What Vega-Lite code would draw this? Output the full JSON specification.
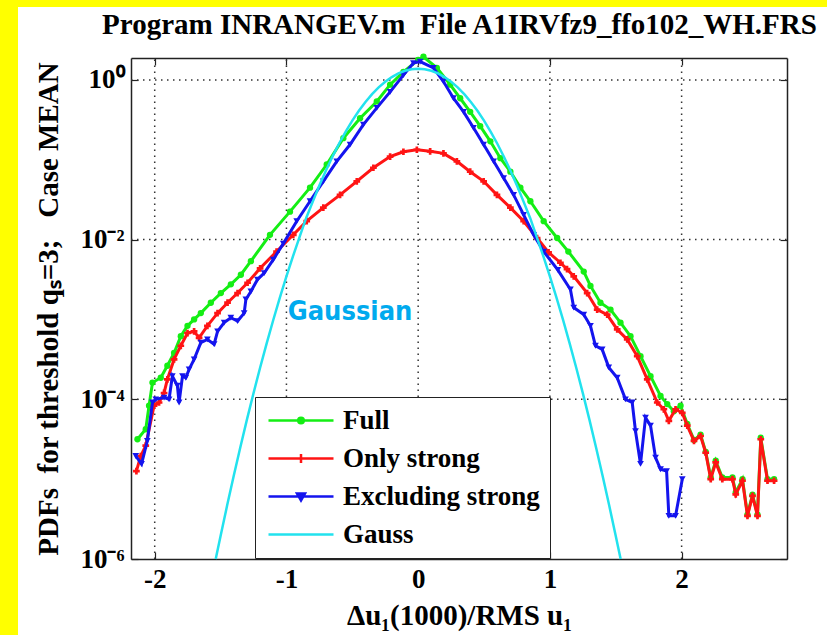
{
  "$schema": "https://vega.github.io/schema/vega-lite/v6.json",
  "width": 809,
  "height": 628,
  "autosize": {"type": "none"},
  "padding": {"left": 18, "top": 7, "right": 0, "bottom": 0},
  "background": "#ffff00",
  "config": {
    "view": {"fill": "white", "stroke": null},
    "font": "Liberation Serif",
    "axis": {
      "labelFont": "Liberation Serif", "labelFontWeight": "bold", "labelFontSize": 27, "labelColor": "black",
      "titleFont": "Liberation Serif", "titleFontWeight": "bold", "titleFontSize": 29, "titleColor": "black",
      "domainColor": "#222", "domainWidth": 1.5, "tickColor": "#222", "tickWidth": 1.2, "tickSize": -7, "grid": false
    }
  },
  "datasets": {
    "gridx": [{"gx": -2}, {"gx": -1}, {"gx": 0}, {"gx": 1}, {"gx": 2}],
    "gridy": [{"gy": 1}, {"gy": 0.01}, {"gy": 0.0001}],
    "note": [{"x": -0.517, "y": 0.00123, "t": "Gaussian"}],
    "full": [
      {"x": -2.131, "y": 3.16e-5}, {"x": -2.068, "y": 4.22e-5}, {"x": -2.043, "y": 8.32e-5}, {"x": -2.017, "y": 1.62e-4},
      {"x": -1.954, "y": 1.86e-4}, {"x": -1.904, "y": 2.63e-4}, {"x": -1.853, "y": 3.80e-4}, {"x": -1.802, "y": 6.17e-4},
      {"x": -1.751, "y": 8.32e-4}, {"x": -1.701, "y": 1.0e-3}, {"x": -1.65, "y": 1.20e-3}, {"x": -1.574, "y": 1.62e-3},
      {"x": -1.498, "y": 2.14e-3}, {"x": -1.422, "y": 2.75e-3}, {"x": -1.346, "y": 3.63e-3}, {"x": -1.27, "y": 5.37e-3},
      {"x": -1.125, "y": 0.01148}, {"x": -0.973, "y": 0.02239}, {"x": -0.821, "y": 0.04467}, {"x": -0.694, "y": 0.0871},
      {"x": -0.568, "y": 0.1862}, {"x": -0.441, "y": 0.3311}, {"x": -0.314, "y": 0.537}, {"x": -0.213, "y": 0.871},
      {"x": -0.112, "y": 1.259}, {"x": 0.0, "y": 1.778}, {"x": 0.04, "y": 1.95}, {"x": 0.142, "y": 1.413},
      {"x": 0.243, "y": 0.871}, {"x": 0.319, "y": 0.589}, {"x": 0.395, "y": 0.398}, {"x": 0.471, "y": 0.263},
      {"x": 0.548, "y": 0.170}, {"x": 0.624, "y": 0.1047}, {"x": 0.7, "y": 0.0708}, {"x": 0.776, "y": 0.0447},
      {"x": 0.852, "y": 0.0302}, {"x": 0.953, "y": 0.0170}, {"x": 1.055, "y": 0.01047}, {"x": 1.14, "y": 7.08e-3},
      {"x": 1.257, "y": 3.98e-3}, {"x": 1.308, "y": 2.63e-3}, {"x": 1.384, "y": 1.62e-3}, {"x": 1.46, "y": 1.33e-3},
      {"x": 1.536, "y": 9.12e-4}, {"x": 1.612, "y": 6.17e-4}, {"x": 1.688, "y": 3.47e-4}, {"x": 1.764, "y": 1.95e-4},
      {"x": 1.84, "y": 1.10e-4}, {"x": 1.891, "y": 8.71e-5}, {"x": 1.941, "y": 7.08e-5}, {"x": 1.992, "y": 8.32e-5},
      {"x": 2.043, "y": 4.9e-5}, {"x": 2.094, "y": 3.1e-5}, {"x": 2.144, "y": 3.6e-5}, {"x": 2.183, "y": 2.2e-5},
      {"x": 2.221, "y": 1.05e-5}, {"x": 2.259, "y": 1.7e-5}, {"x": 2.309, "y": 1.05e-5}, {"x": 2.386, "y": 1.05e-5},
      {"x": 2.411, "y": 6.8e-6}, {"x": 2.462, "y": 1.0e-5}, {"x": 2.5, "y": 3.6e-6}, {"x": 2.538, "y": 6.4e-6},
      {"x": 2.576, "y": 3.6e-6}, {"x": 2.601, "y": 3.3e-5}, {"x": 2.652, "y": 1.0e-5}, {"x": 2.702, "y": 1.0e-5}
    ],
    "strong": [
      {"x": -2.139, "y": 1.26e-5}, {"x": -2.106, "y": 1.95e-5}, {"x": -2.068, "y": 2.63e-5}, {"x": -2.005, "y": 8.32e-5},
      {"x": -1.967, "y": 9.12e-5}, {"x": -1.929, "y": 1.20e-4}, {"x": -1.904, "y": 1.78e-4}, {"x": -1.853, "y": 3.16e-4},
      {"x": -1.802, "y": 4.68e-4}, {"x": -1.751, "y": 6.76e-4}, {"x": -1.701, "y": 7.08e-4}, {"x": -1.663, "y": 5.89e-4},
      {"x": -1.6, "y": 8.32e-4}, {"x": -1.523, "y": 1.20e-3}, {"x": -1.447, "y": 1.62e-3}, {"x": -1.371, "y": 2.14e-3},
      {"x": -1.295, "y": 2.88e-3}, {"x": -1.2, "y": 4.37e-3}, {"x": -1.075, "y": 7.08e-3}, {"x": -0.948, "y": 0.01148},
      {"x": -0.846, "y": 0.0170}, {"x": -0.72, "y": 0.0251}, {"x": -0.593, "y": 0.0363}, {"x": -0.466, "y": 0.0537},
      {"x": -0.34, "y": 0.0794}, {"x": -0.213, "y": 0.1096}, {"x": -0.112, "y": 0.1259}, {"x": -0.01, "y": 0.1334},
      {"x": 0.091, "y": 0.1274}, {"x": 0.192, "y": 0.1202}, {"x": 0.294, "y": 0.0955}, {"x": 0.395, "y": 0.0708},
      {"x": 0.497, "y": 0.0537}, {"x": 0.598, "y": 0.0363}, {"x": 0.7, "y": 0.0251}, {"x": 0.801, "y": 0.0170},
      {"x": 0.903, "y": 0.01047}, {"x": 0.99, "y": 6.92e-3}, {"x": 1.08, "y": 5.13e-3}, {"x": 1.13, "y": 4.27e-3},
      {"x": 1.181, "y": 3.47e-3}, {"x": 1.283, "y": 2.14e-3}, {"x": 1.359, "y": 1.33e-3}, {"x": 1.435, "y": 1.15e-3},
      {"x": 1.511, "y": 7.50e-4}, {"x": 1.587, "y": 5.62e-4}, {"x": 1.663, "y": 3.47e-4}, {"x": 1.739, "y": 1.78e-4},
      {"x": 1.815, "y": 9.12e-5}, {"x": 1.865, "y": 7.50e-5}, {"x": 1.903, "y": 5.37e-5}, {"x": 1.954, "y": 7.50e-5},
      {"x": 2.005, "y": 6.76e-5}, {"x": 2.043, "y": 4.68e-5}, {"x": 2.094, "y": 3.02e-5}, {"x": 2.144, "y": 3.47e-5},
      {"x": 2.183, "y": 2.14e-5}, {"x": 2.221, "y": 1.0e-5}, {"x": 2.259, "y": 1.62e-5}, {"x": 2.309, "y": 1.0e-5},
      {"x": 2.386, "y": 1.0e-5}, {"x": 2.411, "y": 6.46e-6}, {"x": 2.462, "y": 9.55e-6}, {"x": 2.5, "y": 3.47e-6},
      {"x": 2.538, "y": 6.17e-6}, {"x": 2.576, "y": 3.47e-6}, {"x": 2.601, "y": 3.16e-5}, {"x": 2.652, "y": 9.55e-6},
      {"x": 2.702, "y": 9.55e-6}
    ],
    "excl": [
      {"x": -2.144, "y": 1.95e-5}, {"x": -2.1, "y": 1.55e-5}, {"x": -2.056, "y": 3.02e-5}, {"x": -2.017, "y": 9.12e-5},
      {"x": -1.992, "y": 1.0e-4}, {"x": -1.929, "y": 1.05e-4}, {"x": -1.891, "y": 1.0e-4}, {"x": -1.866, "y": 1.95e-4},
      {"x": -1.828, "y": 1.48e-4}, {"x": -1.815, "y": 9.12e-5}, {"x": -1.789, "y": 1.95e-4}, {"x": -1.764, "y": 1.86e-4},
      {"x": -1.739, "y": 2.37e-4}, {"x": -1.701, "y": 3.16e-4}, {"x": -1.65, "y": 5.13e-4}, {"x": -1.6, "y": 5.62e-4},
      {"x": -1.549, "y": 4.90e-4}, {"x": -1.523, "y": 7.08e-4}, {"x": -1.473, "y": 9.12e-4}, {"x": -1.422, "y": 1.05e-3},
      {"x": -1.371, "y": 9.55e-4}, {"x": -1.321, "y": 1.20e-3}, {"x": -1.308, "y": 1.78e-3}, {"x": -1.27, "y": 2.24e-3},
      {"x": -1.22, "y": 3.16e-3}, {"x": -1.169, "y": 3.80e-3}, {"x": -1.1, "y": 5.62e-3}, {"x": -1.024, "y": 8.91e-3},
      {"x": -0.922, "y": 0.0170}, {"x": -0.821, "y": 0.0302}, {"x": -0.72, "y": 0.0537}, {"x": -0.618, "y": 0.0955},
      {"x": -0.517, "y": 0.155}, {"x": -0.416, "y": 0.275}, {"x": -0.314, "y": 0.447}, {"x": -0.213, "y": 0.708},
      {"x": -0.112, "y": 1.148}, {"x": -0.036, "y": 1.622}, {"x": 0.015, "y": 1.698}, {"x": 0.116, "y": 1.413},
      {"x": 0.192, "y": 0.955}, {"x": 0.268, "y": 0.589}, {"x": 0.345, "y": 0.398}, {"x": 0.42, "y": 0.251},
      {"x": 0.497, "y": 0.155}, {"x": 0.573, "y": 0.0955}, {"x": 0.649, "y": 0.0589}, {"x": 0.725, "y": 0.0363},
      {"x": 0.801, "y": 0.0204}, {"x": 0.877, "y": 0.01148}, {"x": 0.953, "y": 7.08e-3}, {"x": 1.06, "y": 4.17e-3},
      {"x": 1.156, "y": 2.37e-3}, {"x": 1.181, "y": 1.41e-3}, {"x": 1.257, "y": 1.15e-3}, {"x": 1.308, "y": 8.32e-4},
      {"x": 1.346, "y": 4.68e-4}, {"x": 1.397, "y": 4.22e-4}, {"x": 1.447, "y": 2.51e-4}, {"x": 1.511, "y": 1.86e-4},
      {"x": 1.574, "y": 1.0e-4}, {"x": 1.625, "y": 9.12e-5}, {"x": 1.65, "y": 3.98e-5}, {"x": 1.688, "y": 1.55e-5},
      {"x": 1.726, "y": 5.89e-5}, {"x": 1.764, "y": 4.68e-5}, {"x": 1.802, "y": 1.86e-5}, {"x": 1.84, "y": 1.33e-5},
      {"x": 1.886, "y": 1.26e-5}, {"x": 1.903, "y": 3.47e-6}, {"x": 1.954, "y": 3.47e-6}, {"x": 2.005, "y": 1.0e-5}
    ],
    "gauss": [
      {"x": -1.537, "y": 1.0e-6}, {"x": -1.5, "y": 1.943e-6}, {"x": -1.45, "y": 4.70e-6}, {"x": -1.4, "y": 1.103e-5},
      {"x": -1.35, "y": 2.514e-5}, {"x": -1.3, "y": 5.559e-5}, {"x": -1.25, "y": 1.193e-4}, {"x": -1.2, "y": 2.484e-4},
      {"x": -1.15, "y": 5.02e-4}, {"x": -1.1, "y": 9.85e-4}, {"x": -1.05, "y": 1.875e-3}, {"x": -1.0, "y": 3.462e-3},
      {"x": -0.95, "y": 6.209e-3}, {"x": -0.9, "y": 0.0108}, {"x": -0.85, "y": 0.01867}, {"x": -0.8, "y": 0.02989},
      {"x": -0.75, "y": 0.04754}, {"x": -0.7, "y": 0.0734}, {"x": -0.65, "y": 0.11}, {"x": -0.6, "y": 0.1599},
      {"x": -0.55, "y": 0.2256}, {"x": -0.5, "y": 0.3089}, {"x": -0.45, "y": 0.4106}, {"x": -0.4, "y": 0.5296},
      {"x": -0.35, "y": 0.663}, {"x": -0.3, "y": 0.8054}, {"x": -0.25, "y": 0.9495}, {"x": -0.2, "y": 1.086},
      {"x": -0.15, "y": 1.206}, {"x": -0.1, "y": 1.3}, {"x": -0.05, "y": 1.36}, {"x": 0.0, "y": 1.38},
      {"x": 0.05, "y": 1.36}, {"x": 0.1, "y": 1.3}, {"x": 0.15, "y": 1.206}, {"x": 0.2, "y": 1.086},
      {"x": 0.25, "y": 0.9495}, {"x": 0.3, "y": 0.8054}, {"x": 0.35, "y": 0.663}, {"x": 0.4, "y": 0.5296},
      {"x": 0.45, "y": 0.4106}, {"x": 0.5, "y": 0.3089}, {"x": 0.55, "y": 0.2256}, {"x": 0.6, "y": 0.1599},
      {"x": 0.65, "y": 0.11}, {"x": 0.7, "y": 0.0734}, {"x": 0.75, "y": 0.04754}, {"x": 0.8, "y": 0.02989},
      {"x": 0.85, "y": 0.01867}, {"x": 0.9, "y": 0.0108}, {"x": 0.95, "y": 6.209e-3}, {"x": 1.0, "y": 3.462e-3},
      {"x": 1.05, "y": 1.875e-3}, {"x": 1.1, "y": 9.85e-4}, {"x": 1.15, "y": 5.02e-4}, {"x": 1.2, "y": 2.484e-4},
      {"x": 1.25, "y": 1.193e-4}, {"x": 1.3, "y": 5.559e-5}, {"x": 1.35, "y": 2.514e-5}, {"x": 1.4, "y": 1.103e-5},
      {"x": 1.45, "y": 4.70e-6}, {"x": 1.5, "y": 1.943e-6}, {"x": 1.537, "y": 1.0e-6}
    ]
  },
  "resolve": {"axis": {"x": "independent", "y": "independent"}},
  "layer": [
    {
      "data": {"name": "gridx"},
      "mark": {"type": "rule", "stroke": "#333", "strokeWidth": 1.5, "strokeDash": [1.5, 4.5]},
      "encoding": {
        "x": {"field": "gx", "type": "quantitative",
          "scale": {"domain": [-2.18, 2.8], "range": [113, 769], "nice": false, "zero": false},
          "axis": {"orient": "top", "offset": -51, "values": [-2, -1, 0, 1, 2], "labels": false,
            "title": "Program INRANGEV.m \u00a0File A1IRVfz9_ffo102_WH.FRS", "titlePadding": 18}},
        "y": {"datum": 1e-6, "type": "quantitative",
          "scale": {"type": "log", "domain": [1e-6, 1.88], "range": [552, 51], "nice": false},
          "axis": {"orient": "right", "offset": -40, "values": [1e-6, 1e-4, 1e-2, 1], "labels": false, "title": null}},
        "y2": {"datum": 1.88}
      }
    },
    {
      "data": {"name": "gridy"},
      "mark": {"type": "rule", "stroke": "#333", "strokeWidth": 1.5, "strokeDash": [1.5, 4.5]},
      "encoding": {
        "y": {"field": "gy", "type": "quantitative",
          "scale": {"type": "log", "domain": [1e-6, 1.88], "range": [552, 51], "nice": false}, "axis": null},
        "x": {"datum": -2.18, "type": "quantitative",
          "scale": {"domain": [-2.18, 2.8], "range": [113, 769], "nice": false, "zero": false}, "axis": null},
        "x2": {"datum": 2.8}
      }
    },
    {
      "data": {"name": "full"},
      "mark": {"type": "line", "strokeWidth": 3, "point": {"shape": "circle", "size": 40, "filled": true}},
      "encoding": {
        "x": {"field": "x", "type": "quantitative",
          "scale": {"domain": [-2.18, 2.8], "range": [113, 769], "nice": false, "zero": false},
          "axis": {"orient": "bottom", "offset": -76, "values": [-2, -1, 0, 1, 2],
            "labelExpr": "replace(datum.label, '\u2212', '-')", "labelPadding": 14,
            "title": "\u0394u\u2081(1000)/RMS u\u2081", "titlePadding": 9}},
        "y": {"field": "y", "type": "quantitative",
          "scale": {"type": "log", "domain": [1e-6, 1.88], "range": [552, 51], "nice": false},
          "axis": {"orient": "left", "offset": -113, "values": [1e-6, 1e-4, 1e-2, 1],
            "labelExpr": "datum.value > 0.5 ? '10\u2070' : datum.value > 0.005 ? '10\u207b\u00b2' : datum.value > 0.00005 ? '10\u207b\u2074' : '10\u207b\u2076'",
            "labelPadding": 14, "titleFontSize": 29,
            "title": "PDFs \u00a0for threshold q\u209b=3; \u00a0 Case MEAN", "titlePadding": 16}},
        "color": {"datum": "Full",
          "scale": {"domain": ["Full", "Only strong", "Excluding strong", "Gauss"], "range": ["#14ee14", "#ff1414", "#1414ee", "#22e2ee"]},
          "legend": {
            "orient": "none", "legendX": 237, "legendY": 390, "title": null,
            "fillColor": "white", "strokeColor": "#222", "padding": 10,
            "labelFont": "Liberation Serif", "labelFontWeight": "bold", "labelFontSize": 27, "labelColor": "black", "labelLimit": 400,
            "symbolSize": 400, "symbolStrokeWidth": 2.5, "labelOffset": 51, "rowPadding": 10,
            "encode": {"symbols": {"update": {
              "shape": {"signal": "datum.value === 'Full' ? 'M-1,0H5.5M2.25,-0.28A0.28,0.28 0 1 1 2.25,0.28A0.28,0.28 0 1 1 2.25,-0.28Z' : datum.value === 'Only strong' ? 'M-1,0H5.5M2.25,-0.45V0.45' : datum.value === 'Excluding strong' ? 'M-1,0H5.5M1.85,-0.3H2.65L2.25,0.4Z' : 'M-1,0H5.5'"},
              "stroke": {"scale": "color", "field": "value"},
              "fill": {"scale": "color", "field": "value"},
              "strokeWidth": {"value": 2.5},
              "opacity": {"value": 1}
            }}}
          }}
      }
    },
    {
      "data": {"name": "strong"},
      "mark": {"type": "line", "strokeWidth": 3, "point": {"shape": "cross", "size": 45, "filled": true}},
      "encoding": {
        "x": {"field": "x", "type": "quantitative",
          "scale": {"domain": [-2.18, 2.8], "range": [113, 769], "nice": false, "zero": false}, "axis": null},
        "y": {"field": "y", "type": "quantitative",
          "scale": {"type": "log", "domain": [1e-6, 1.88], "range": [552, 51], "nice": false}, "axis": null},
        "color": {"datum": "Only strong"}
      }
    },
    {
      "data": {"name": "excl"},
      "mark": {"type": "line", "strokeWidth": 3, "point": {"shape": "triangle-down", "size": 45, "filled": true}},
      "encoding": {
        "x": {"field": "x", "type": "quantitative",
          "scale": {"domain": [-2.18, 2.8], "range": [113, 769], "nice": false, "zero": false}, "axis": null},
        "y": {"field": "y", "type": "quantitative",
          "scale": {"type": "log", "domain": [1e-6, 1.88], "range": [552, 51], "nice": false}, "axis": null},
        "color": {"datum": "Excluding strong"}
      }
    },
    {
      "data": {"name": "gauss"},
      "mark": {"type": "line", "strokeWidth": 2.5},
      "encoding": {
        "x": {"field": "x", "type": "quantitative",
          "scale": {"domain": [-2.18, 2.8], "range": [113, 769], "nice": false, "zero": false}, "axis": null},
        "y": {"field": "y", "type": "quantitative",
          "scale": {"type": "log", "domain": [1e-6, 1.88], "range": [552, 51], "nice": false}, "axis": null},
        "color": {"datum": "Gauss"}
      }
    },
    {
      "data": {"name": "note"},
      "mark": {"type": "text", "font": "DejaVu Sans Condensed, Liberation Sans Narrow, sans-serif", "fontWeight": "bold", "fontSize": 27, "color": "#00aaee", "baseline": "middle"},
      "encoding": {
        "x": {"field": "x", "type": "quantitative",
          "scale": {"domain": [-2.18, 2.8], "range": [113, 769], "nice": false, "zero": false}, "axis": null},
        "y": {"field": "y", "type": "quantitative",
          "scale": {"type": "log", "domain": [1e-6, 1.88], "range": [552, 51], "nice": false}, "axis": null},
        "text": {"field": "t"}
      }
    }
  ]
}
